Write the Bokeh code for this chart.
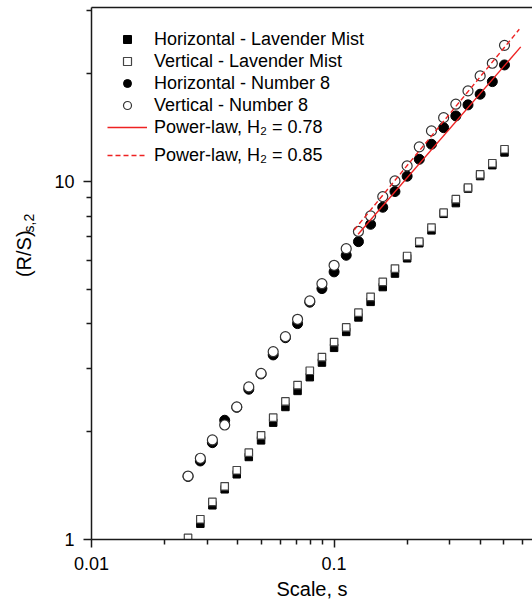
import math
from bokeh.plotting import figure
from bokeh.layouts import row
from bokeh.models import (FixedTicker, NumeralTickFormatter, LogAxis, Legend,
                          LegendItem, Label, Range1d)
from bokeh.embed import file_html
from bokeh.resources import INLINE

# ---- data ----
scale = [0.0250, 0.0281, 0.0315, 0.0354, 0.0397, 0.0445, 0.0500, 0.0561, 0.0630,
         0.0707, 0.0794, 0.0891, 0.1000, 0.1122, 0.1260, 0.1414, 0.1587, 0.1782,
         0.2000, 0.2245, 0.2520, 0.2828, 0.3175, 0.3564, 0.4000, 0.4490, 0.5040]

horiz_lavender = [0.97, 1.107, 1.246, 1.381, 1.521, 1.700, 1.892, 2.12, 2.345,
                  2.60, 2.84, 3.12, 3.43, 3.80, 4.17, 4.61, 5.07, 5.53, 6.10,
                  6.72, 7.30, 8.12, 8.70, 9.55, 10.35, 11.10, 12.05]
vert_lavender = [1.01, 1.139, 1.273, 1.408, 1.561, 1.748, 1.954, 2.189, 2.43,
                 2.70, 2.96, 3.23, 3.56, 3.91, 4.30, 4.76, 5.24, 5.71, 6.19,
                 6.79, 7.43, 8.18, 8.92, 9.61, 10.47, 11.24, 12.30]
horiz_number8 = [1.50, 1.657, 1.864, 2.153, 2.34, 2.628, 2.90, 3.277, 3.66,
                 4.008, 4.60, 5.02, 5.59, 6.22, 6.79, 7.59, 8.47, 9.37, 10.34,
                 11.53, 12.70, 14.13, 15.24, 16.36, 17.52, 19.0, 21.15]
vert_number8 = [1.504, 1.686, 1.897, 2.088, 2.345, 2.667, 2.91, 3.346, 3.686,
                4.12, 4.637, 5.18, 5.83, 6.49, 7.25, 8.01, 9.07, 10.03, 11.05,
                12.49, 13.84, 15.07, 16.43, 17.9, 19.71, 21.38, 23.99]

fit078_x = [0.1256, 0.588]
fit078_y = [7.12, 23.75]
fit085_x = [0.121, 0.580]
fit085_y = [7.32, 26.6]

x_major = [0.01, 0.1]
x_minor = [0.02, 0.03, 0.04, 0.05, 0.06, 0.07, 0.08, 0.09, 0.2, 0.3, 0.4, 0.5, 0.6]
y_major = [1, 10]
y_minor = [2, 3, 4, 5, 6, 7, 8, 9, 20, 30]

labels = ["Horizontal - Lavender Mist", "Vertical - Lavender Mist",
          "Horizontal - Number 8", "Vertical - Number 8",
          "Power-law, H\u2082 = 0.78", "Power-law, H\u2082 = 0.85"]
x_title = "Scale, s"
y_title_main = "(R/S)"
y_title_sub = "s,2"

FONT = "Liberation Sans"
INK = "#1a1a1a"
RED = "#ee2222"
W, H = 532, 607
STRIP = 40          # width of the strip that carries the y-axis title

p = figure(width=W - STRIP, height=H, x_axis_type="log", y_axis_type="log",
           x_range=Range1d(0.01, 0.6574), y_range=Range1d(1, 30.6),
           output_backend="svg", toolbar_location=None,
           min_border_left=91 - STRIP, min_border_right=0, min_border_top=7,
           min_border_bottom=68)
p.grid.visible = False
p.outline_line_color = None
p.background_fill_color = "white"
p.border_fill_color = "white"

r_hl = p.scatter(scale, horiz_lavender, marker="square", size=7.5,
                 fill_color="black", line_color="black", line_width=1)
r_vl = p.scatter(scale, vert_lavender, marker="square", size=7.5,
                 fill_color="white", line_color="#444444", line_width=1.2)
r_hn = p.scatter(scale, horiz_number8, marker="circle", size=10,
                 fill_color="black", line_color="black", line_width=1)
r_vn = p.scatter(scale, vert_number8, marker="circle", size=10,
                 fill_color="white", line_color="#333333", line_width=1.2)
r_f1 = p.line(fit078_x, fit078_y, line_color=RED, line_width=1.4)
r_f2 = p.line(fit085_x, fit085_y, line_color=RED, line_width=1.4,
              line_dash="5 3")

for ax, major, minor, standoff in ((p.xaxis, x_major, x_minor, 9),
                                   (p.yaxis, y_major, y_minor, 9)):
    ax.ticker = FixedTicker(ticks=major, minor_ticks=minor)
    ax.formatter = NumeralTickFormatter(format="0.[00]")
    ax.major_tick_out = 8
    ax.major_tick_in = 0
    ax.minor_tick_out = 5
    ax.minor_tick_in = 0
    ax.axis_line_width = 1.5
    ax.axis_line_color = INK
    ax.major_tick_line_width = 1.5
    ax.major_tick_line_color = INK
    ax.minor_tick_line_width = 1.5
    ax.minor_tick_line_color = INK
    ax.major_label_text_font = FONT
    ax.major_label_text_font_size = "18px"
    ax.major_label_text_color = "black"
    ax.major_label_standoff = standoff

p.xaxis.axis_label = x_title
p.xaxis.axis_label_text_font = FONT
p.xaxis.axis_label_text_font_size = "20px"
p.xaxis.axis_label_text_font_style = "normal"
p.xaxis.axis_label_text_color = "black"
p.xaxis.axis_label_standoff = 5

top = LogAxis(ticker=FixedTicker(ticks=[], minor_ticks=[]),
              major_tick_out=0, major_tick_in=0, minor_tick_out=0,
              minor_tick_in=0, major_label_text_font_size="0px",
              axis_line_width=1.5, axis_line_color=INK)
p.add_layout(top, "above")

leg_common = dict(label_text_font=FONT, label_text_font_size="18px",
                  label_text_color="black", glyph_width=40, glyph_height=20,
                  label_height=22, label_standoff=7, spacing=0, padding=0,
                  margin=0, background_fill_alpha=0, border_line_color=None)
leg_a = Legend(items=[LegendItem(label=labels[0], renderers=[r_hl]),
                      LegendItem(label=labels[1], renderers=[r_vl]),
                      LegendItem(label=labels[2], renderers=[r_hn]),
                      LegendItem(label=labels[3], renderers=[r_vn]),
                      LegendItem(label=labels[4], renderers=[r_f1])],
               location=(16, 401), **leg_common)
leg_b = Legend(items=[LegendItem(label=labels[5], renderers=[r_f2])],
               location=(16, 373), **leg_common)
p.add_layout(leg_a, "center")
p.add_layout(leg_b, "center")

# narrow strip on the left that carries the rotated y-axis title
t = figure(width=STRIP, height=H, x_range=Range1d(0, STRIP),
           y_range=Range1d(0, H), output_backend="svg", toolbar_location=None,
           x_axis_location=None, y_axis_location=None,
           min_border_left=0, min_border_right=0, min_border_top=0,
           min_border_bottom=0)
t.grid.visible = False
t.outline_line_color = None
t.background_fill_color = "white"
t.border_fill_color = "white"
t.add_layout(Label(x=23, y=H - 281, text=y_title_main, angle=math.pi / 2,
                   text_align="center", text_baseline="middle",
                   text_font=FONT, text_font_size="20px", text_color="black"))
t.add_layout(Label(x=28, y=H - 246, text=y_title_sub, angle=math.pi / 2,
                   text_align="center", text_baseline="middle",
                   text_font=FONT, text_font_size="14px", text_color="black"))

page = row(t, p, spacing=0)
open("out.html", "w").write(file_html(page, INLINE))
